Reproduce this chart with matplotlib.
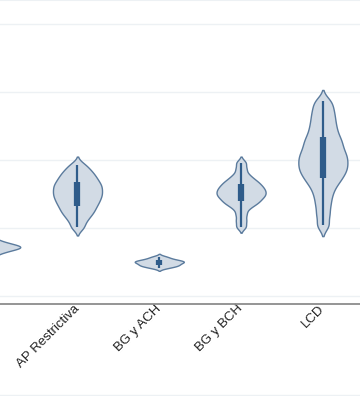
import numpy as np
import matplotlib.pyplot as plt
from matplotlib.lines import Line2D

# left-most group is cut off by the crop, its label is not visible
categories = ['', 'AP Restrictiva', 'BG y ACH', 'BG y BCH', 'LCD']

vals_first = [6.4, 6.7, 6.85, 7.0, 7.1, 7.2, 7.3, 7.4, 7.55, 7.7, 8.0]
vals_ap = [10.1, 11.05, 11.7, 12.2, 12.6, 13.0, 13.4, 13.7, 14.05, 14.35,
           14.65, 14.95, 15.2, 15.5, 15.8, 16.1, 16.35, 16.65, 17.0, 17.35,
           17.7, 18.15, 18.6, 19.3]
vals_ach = [4.1, 4.3, 4.4, 4.5, 4.6, 4.7, 4.8, 4.9, 5.0, 5.05,
            5.1, 5.2, 5.3, 5.4, 5.6, 5.8]
vals_bch = [10.2, 11.1, 12.0, 12.8, 13.3, 13.6, 13.85, 14.1, 14.33, 14.55,
            14.75, 14.92, 15.1, 15.3, 15.48, 15.67, 15.87, 16.06, 16.3, 16.52,
            16.78, 17.05, 17.42, 17.9, 18.7, 19.6]
vals_lcd = [10.4, 12.0, 13.4, 14.6, 15.6, 16.4, 17.0, 17.5, 18.0, 18.4,
            18.8, 19.2, 19.6, 20.0, 20.4, 20.8, 21.2, 21.7, 22.2, 22.7,
            23.2, 23.8, 24.5, 25.2, 26.0, 26.8, 27.7, 28.7]
groups = [vals_first, vals_ap, vals_ach, vals_bch, vals_lcd]
bandwidths = [0.3, 0.6, 0.2, 0.45, 0.8]

FILL = '#d2dbe5'
EDGE = '#5b7b9d'
BOX = '#2f5c8a'
GRID = '#edf1f4'


def kde(x, bw, grid):
    d = (grid[:, None] - x[None, :]) / bw
    return np.exp(-0.5 * d ** 2).sum(axis=1)


fig = plt.figure(figsize=(3.6, 3.96), dpi=100)
ax = fig.add_axes([0, 1 - 304 / 396, 1, 304 / 396])

for i, (vals, bw) in enumerate(zip(groups, bandwidths)):
    x = np.array(vals)
    grid = np.linspace(x.min() - 2 * bw, x.max() + 2 * bw, 400)
    dens = kde(x, bw, grid)
    hw = dens / dens.max() * 0.30
    ax.fill_betweenx(grid, i - hw, i + hw, facecolor=FILL, edgecolor=EDGE,
                     lw=1, zorder=2)
    q1, q3 = np.percentile(x, [25, 75])
    iqr = q3 - q1
    lo = x[x >= q1 - 1.5 * iqr].min()
    hi = x[x <= q3 + 1.5 * iqr].max()
    ax.vlines(i, lo, hi, color=BOX, lw=1.6, zorder=3)
    ax.vlines(i, q1, q3, color=BOX, lw=4.5, zorder=3)

# ticks first, set_xticks would otherwise widen the limits
ax.set_xticks(range(len(categories)))
ax.set_xticklabels(categories, rotation=45, ha='right', va='center',
                   rotation_mode='anchor', fontsize=9.5,
                   family='Liberation Sans', color='#222222')
ax.tick_params(axis='x', length=0, pad=2)
ax.set_yticks([0, 10, 20, 30, 40])
ax.set_yticklabels([])
ax.tick_params(axis='y', length=0)
ax.set_xlim(0.0526, 4.454)
ax.set_ylim(-1.18, 43.53)
ax.grid(axis='y', color=GRID, lw=1)
ax.set_axisbelow(True)
for s in ['left', 'right']:
    ax.spines[s].set_visible(False)
ax.spines['top'].set_color(GRID)
ax.spines['bottom'].set_color('#8c8c8c')
ax.spines['bottom'].set_linewidth(1.3)

fig.add_artist(Line2D([0, 1], [0.003, 0.003], color=GRID, lw=1))

fig.savefig('out.png', dpi=100)
